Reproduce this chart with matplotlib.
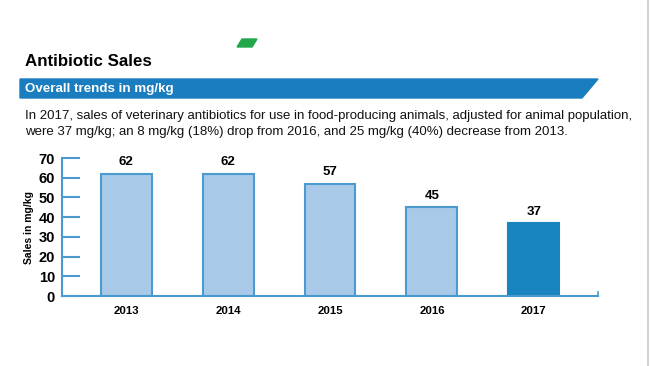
import matplotlib.pyplot as plt
from matplotlib.patches import Polygon
from matplotlib.lines import Line2D

plt.rcParams['font.family'] = ['Liberation Sans', 'DejaVu Sans']

years = ["2013", "2014", "2015", "2016", "2017"]
sales = [62, 62, 57, 45, 37]
y_ticks = [0, 10, 20, 30, 40, 50, 60, 70]

title = "Antibiotic Sales"
banner = "Overall trends in mg/kg"
para = ("In 2017, sales of veterinary antibiotics for use in food-producing animals, adjusted for animal population,\n"
        "were 37 mg/kg; an 8 mg/kg (18%) drop from 2016, and 25 mg/kg (40%) decrease from 2013.")

light = "#a8cae8"
edge = "#4b9bd0"
dark = "#1985c0"
axis_col = "#4a9ad0"

W, H = 650, 366
fig = plt.figure(figsize=(6.5, 3.66), dpi=100)

def fx(px):
    return px / W

def fy(py):
    return 1 - py / H

# header decorations
fig.patches.append(Polygon([(fx(242), fy(39)), (fx(257), fy(39)), (fx(252), fy(47)), (fx(237), fy(47))],
                           closed=True, transform=fig.transFigure, color="#22a84a"))
fig.patches.append(Polygon([(fx(20), fy(79)), (fx(598), fy(79)), (fx(582), fy(98)), (fx(20), fy(98))],
                           closed=True, transform=fig.transFigure, color="#1a7dbf"))
fig.lines.append(Line2D([fx(648), fx(648)], [0, 1], transform=fig.transFigure, color="#c8c8c8", lw=1.2))

fig.text(fx(25), fy(62), title, fontsize=12.2, fontweight="bold", va="center", ha="left")
fig.text(fx(25), fy(89), banner, fontsize=9.6, fontweight="bold", color="white", va="center", ha="left")
fig.text(fx(25), fy(124), para, fontsize=9.5, va="center", ha="left", linespacing=1.5, color="#111111")

ax = fig.add_axes([fx(62), fy(296), fx(598) - fx(62), fy(158) - fy(296)])
x = list(range(len(years)))
colors = [light] * (len(years) - 1) + [dark]
edges = [edge] * (len(years) - 1) + [dark]
bars = ax.bar(x, sales, width=0.5, color=colors, edgecolor=edges, linewidth=1.5)
for xi, v in zip(x, sales):
    ax.annotate(str(v), (xi, v), xytext=(0, 4), textcoords="offset points",
                ha="center", va="bottom", fontsize=9.5, fontweight="bold")

ax.set_xlim(-0.63, 4.63)
ax.set_ylim(0, 70)
ax.set_yticks(y_ticks)
ax.set_xticks(x)
ax.set_xticklabels(years)
for s in ["top", "right"]:
    ax.spines[s].set_visible(False)
for s in ["left", "bottom"]:
    ax.spines[s].set_color(axis_col)
    ax.spines[s].set_linewidth(1.5)
ax.tick_params(axis="y", direction="in", length=13, width=1.5, color=axis_col, labelsize=10.5, pad=5)
ax.tick_params(axis="x", length=0, labelsize=8.2, pad=7)
for lab in ax.get_yticklabels() + ax.get_xticklabels():
    lab.set_fontweight("bold")
ax.set_ylabel("Sales in mg/kg", fontsize=7.5, fontweight="bold", labelpad=3)
ax.plot([4.63, 4.63], [0, 1.8], color=axis_col, lw=1.2, clip_on=False)
ax.set_facecolor("none")

fig.savefig("out.png", dpi=100)
